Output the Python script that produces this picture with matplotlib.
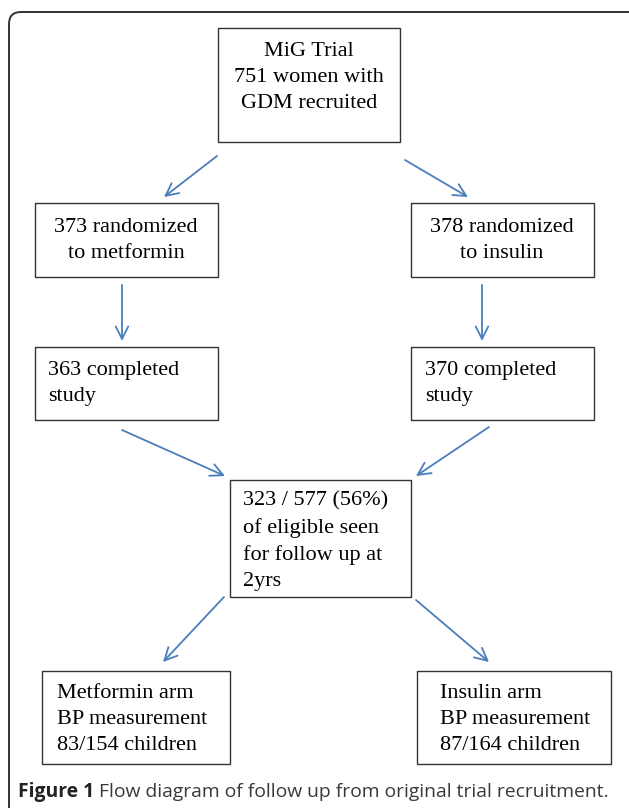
import matplotlib.pyplot as plt
from matplotlib.patches import Rectangle, FancyBboxPatch

# box texts of the flow diagram
labels = [
    "MiG Trial\n751 women with\nGDM recruited",
    "373 randomized\nto metformin",
    "378 randomized\nto insulin",
    "363 completed\nstudy",
    "370 completed\nstudy",
    "323 / 577 (56%)\nof eligible seen\nfor follow up at\n2yrs",
    "Metformin arm\nBP measurement\n83/154 children",
    "Insulin arm\nBP measurement\n87/164 children",
]
caption_bold = "Figure 1"
caption_text = " Flow diagram of follow up from original trial recruitment."

# layout in pixels: box (x0, y0, x1, y1), text anchor, alignment
boxes = [
    (218, 28, 400, 142), (35, 203, 218, 277), (411, 203, 594, 277),
    (35, 347, 218, 420), (411, 347, 594, 420), (230, 480, 411, 597),
    (42, 671, 230, 764), (417, 671, 611, 764),
]
anchors = [(309, 77), (126, 240), (502, 240), (48, 384), (425, 384),
           (243, 541), (57, 720), (440, 720)]
aligns = ["center", "center", "center", "left", "left", "left", "left", "left"]
arrows = [
    ((217, 156), (164, 197)), ((405, 160), (468, 197)),
    ((122, 285), (122, 341)), ((482, 285), (482, 341)),
    ((122, 430), (225, 476)), ((489, 427), (416, 476)),
    ((224, 597), (163, 662)), ((416, 600), (489, 662)),
]

W, H = 629, 808
fig = plt.figure(figsize=(W / 100, H / 100), dpi=100)
ax = fig.add_axes([0, 0, 1, 1])
ax.set_xlim(0, W)
ax.set_ylim(H, 0)
ax.axis("off")

# outer rounded frame (runs past the right and bottom edges)
ax.add_patch(FancyBboxPatch((9, 12), 640, 810, boxstyle="round,pad=0,rounding_size=12",
                            fill=False, ec="#333333", lw=1.4, clip_on=False))

for (x0, y0, x1, y1), txt, (tx, ty), ha in zip(boxes, labels, anchors, aligns):
    ax.add_patch(Rectangle((x0, y0), x1 - x0, y1 - y0, fill=False, ec="#333333", lw=1.0))
    ax.text(tx, ty, txt, ha=ha, va="center", multialignment=ha,
            family="Liberation Serif", fontsize=16, linespacing=1.5, color="black")

for start, end in arrows:
    ax.annotate("", xy=end, xytext=start,
                arrowprops=dict(arrowstyle="->,head_length=0.9,head_width=0.45",
                                color="#4a7ebb", lw=1.3, shrinkA=0, shrinkB=0))

t = ax.text(18, 792, caption_bold, family="Open Sans", weight="bold", fontsize=13.9,
            va="center", ha="left", color="#222222")
fig.canvas.draw()
bb = t.get_window_extent()
x_end = ax.transData.inverted().transform((bb.x1, 0))[0]
ax.text(x_end, 792, caption_text, family="Open Sans", fontsize=13.9,
        va="center", ha="left", color="#3a3a3a")

fig.savefig("out.png", dpi=100)
